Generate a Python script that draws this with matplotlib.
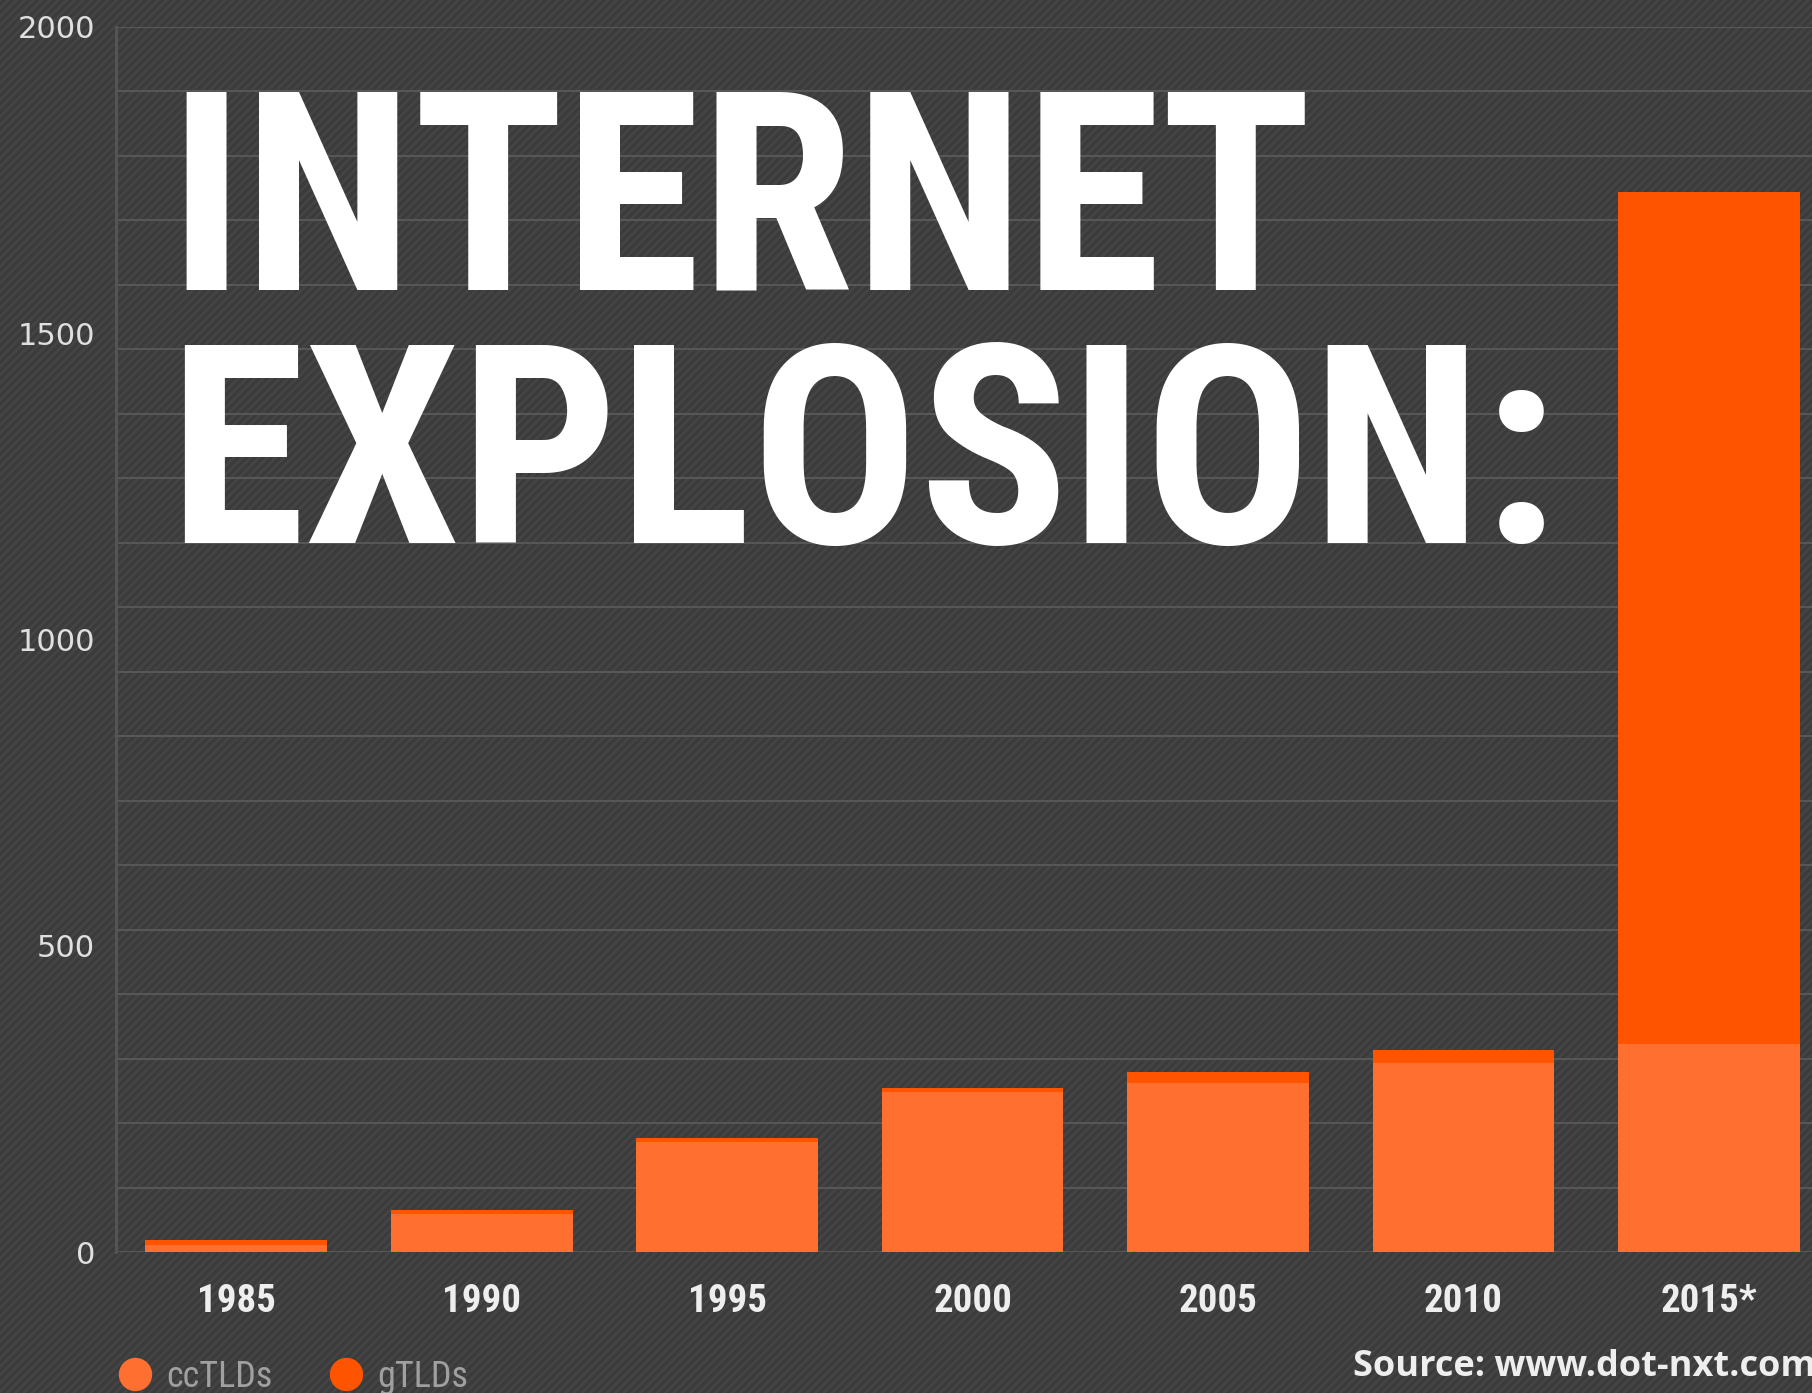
# Internet explosion: number of top-level domains per year
import numpy as np
import matplotlib
matplotlib.use('Agg')
import matplotlib.pyplot as plt
from matplotlib import font_manager
from matplotlib.patches import Rectangle
from matplotlib.lines import Line2D

years = ['1985', '1990', '1995', '2000', '2005', '2010', '2015*']
cctlds = [12, 62, 179, 261, 276, 309, 340]
gtlds = [8, 7, 7, 7, 18, 21, 1390]
yticks = [0, 500, 1000, 1500, 2000]

W, H = 1812, 1393
bg = '#3b3b3b'
cc_col = '#ff7030'
g_col = '#fe5400'

names = {f.name for f in font_manager.fontManager.ttflist}
cond = next((n for n in ['Roboto Condensed', 'Open Sans Condensed',
                         'Liberation Sans Narrow', 'DejaVu Sans'] if n in names),
            'DejaVu Sans')
wide = 'Open Sans' if 'Open Sans' in names else 'DejaVu Sans'

plt.rcParams['hatch.linewidth'] = 2.0
fig = plt.figure(figsize=(W / 100, H / 100), dpi=100, facecolor=bg)
fig.add_artist(Rectangle((0, 0), 1, 1, transform=fig.transFigure,
                         facecolor=bg, edgecolor='#444444', hatch='////',
                         linewidth=0, zorder=-10))

ax = fig.add_axes([116 / W, (H - 1252) / H, 1 - 116 / W, (1252 - 27) / H])
ax.set_facecolor('none')

x = np.arange(len(years))
ax.bar(x, cctlds, width=0.74, color=cc_col, zorder=3)
ax.bar(x, gtlds, width=0.74, bottom=cctlds, color=g_col, zorder=3)

for gy in np.linspace(0, 2000, 20):
    ax.axhline(gy, color='#575757', lw=1.5, zorder=1)

ax.set_xlim(-0.49, 6.42)
ax.set_ylim(0, 2000)
ax.set_yticks(yticks)
ax.set_yticklabels([str(v) for v in yticks], family='DejaVu Sans',
                   fontsize=22, color='#e0e0e0')
ax.set_xticks(x)
ax.set_xticklabels(years, family=cond, fontweight='bold', fontsize=28,
                   color='#eeeeee')
ax.tick_params(axis='y', length=0, pad=15)
ax.tick_params(axis='x', length=0, pad=22)
for s in ['top', 'right', 'bottom']:
    ax.spines[s].set_visible(False)
ax.spines['left'].set_color('#555555')
ax.spines['left'].set_linewidth(2)

# title, fitted to the width of the second line
t1 = fig.text(168 / W, (H - 289) / H, 'INTERNET', family=cond,
              fontweight='bold', fontsize=200, color='white', va='baseline')
t2 = fig.text(168 / W, (H - 543) / H, 'EXPLOSION:', family=cond,
              fontweight='bold', fontsize=200, color='white', va='baseline')
r = fig.canvas.get_renderer()
wd = t2.get_window_extent(r).width
size = 200 * 1390 / wd
t1.set_fontsize(size)
t2.set_fontsize(size)

# legend
handles = [Line2D([], [], marker='o', ls='', markersize=23, color=cc_col),
           Line2D([], [], marker='o', ls='', markersize=23, color=g_col)]
fig.legend(handles, ['ccTLDs', 'gTLDs'], loc='center left',
           bbox_to_anchor=(117 / W, 16 / H), ncol=2, frameon=False,
           handlelength=1, handletextpad=0.35, columnspacing=1.55,
           borderpad=0, borderaxespad=0,
           prop={'family': cond, 'size': 26}, labelcolor='#a0a0a0')

fig.text(1.002, 26 / H, 'Source: www.dot-nxt.com', family=wide,
         fontweight='bold', fontsize=26, color='#eeeeee', ha='right',
         va='center')

fig.savefig('out.png', dpi=100, facecolor=bg)
